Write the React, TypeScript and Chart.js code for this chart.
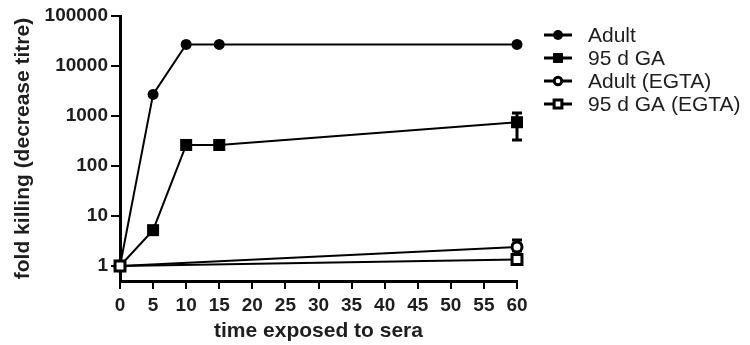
import React, { useEffect, useRef } from 'react';
import { Chart, registerables } from 'chart.js';

Chart.register(...registerables);

// ---- data ----
const seriesNames = ['Adult', '95 d GA', 'Adult (EGTA)', '95 d GA (EGTA)'];
const timePoints = [0, 5, 10, 15, 60];
const adultValues = [1, 2700, 27000, 27000, 27000];
const ga95Values = [1, 5.2, 263, 263, 750];
const egtaTimePoints = [0, 60];
const adultEgtaValues = [1, 2.4];
const ga95EgtaValues = [1, 1.35];

// error bars (time, low, high)
const ga95ErrorTimes = [60];
const ga95ErrorLow = [330];
const ga95ErrorHigh = [1150];
const adultEgtaErrorTimes = [60];
const adultEgtaErrorLow = [2.0];
const adultEgtaErrorHigh = [3.3];

const xTickValues = [0, 5, 10, 15, 20, 25, 30, 35, 40, 45, 50, 55, 60];
const yTickValues = [1, 10, 100, 1000, 10000, 100000];

const FONT = '"Liberation Sans", Arial, Helvetica, sans-serif';
const INK = '#1e1e1e';

function toPoints(xs: number[], ys: number[]) {
  return xs.map((x, i) => ({ x, y: ys[i] }));
}

function drawMarker(
  ctx: CanvasRenderingContext2D,
  style: string,
  x: number,
  y: number,
  r: number,
  fill: string,
  bw: number
) {
  ctx.save();
  ctx.beginPath();
  if (style === 'circle') {
    ctx.arc(x, y, r, 0, Math.PI * 2);
  } else {
    const s = Math.SQRT1_2 * r;
    ctx.rect(x - s, y - s, 2 * s, 2 * s);
  }
  ctx.fillStyle = fill;
  ctx.fill();
  if (bw > 0) {
    ctx.lineWidth = bw;
    ctx.strokeStyle = '#000';
    ctx.stroke();
  }
  ctx.restore();
}

const errorBarPlugin = {
  id: 'errorBars',
  beforeDatasetsDraw(chart: any) {
    const ctx: CanvasRenderingContext2D = chart.ctx;
    const xs = chart.scales.x;
    const ys = chart.scales.y;
    chart.data.datasets.forEach((ds: any) => {
      if (!ds.errorBars) return;
      ds.errorBars.forEach((e: any) => {
        const px = xs.getPixelForValue(e.x);
        const lo = ys.getPixelForValue(e.low);
        const hi = ys.getPixelForValue(e.high);
        ctx.save();
        ctx.strokeStyle = '#000';
        ctx.lineWidth = 3;
        ctx.beginPath();
        ctx.moveTo(px, lo);
        ctx.lineTo(px, hi);
        ctx.moveTo(px - 5, hi);
        ctx.lineTo(px + 5, hi);
        ctx.moveTo(px - 5, lo);
        ctx.lineTo(px + 5, lo);
        ctx.stroke();
        ctx.restore();
      });
    });
  },
};

const legendPlugin = {
  id: 'lineMarkerLegend',
  afterDraw(chart: any) {
    const ctx: CanvasRenderingContext2D = chart.ctx;
    const lineStart = 544;
    const lineEnd = 572;
    const markerX = 558;
    const textX = 588;
    const rowTop = 35;
    const rowGap = 23;
    chart.data.datasets.forEach((ds: any, i: number) => {
      const y = rowTop + i * rowGap;
      ctx.save();
      ctx.strokeStyle = '#000';
      ctx.lineWidth = 3;
      ctx.beginPath();
      ctx.moveTo(lineStart, y);
      ctx.lineTo(lineEnd, y);
      ctx.stroke();
      drawMarker(
        ctx,
        ds.pointStyle,
        markerX,
        y,
        ds.legendRadius,
        ds.pointBackgroundColor,
        ds.pointBorderWidth
      );
      ctx.fillStyle = INK;
      ctx.font = `21px ${FONT}`;
      ctx.textAlign = 'left';
      ctx.textBaseline = 'middle';
      ctx.fillText(ds.label, textX, y + 1);
      ctx.restore();
    });
  },
};

export default function App() {
  const canvasRef = useRef<HTMLCanvasElement | null>(null);

  useEffect(() => {
    if (!canvasRef.current) return;
    const baseLine = {
      borderColor: '#000',
      borderWidth: 2,
      pointBorderColor: '#000',
      pointHoverRadius: 0,
      tension: 0,
      clip: false as any,
      fill: false,
    };
    const chart = new Chart(canvasRef.current, {
      type: 'line',
      data: {
        datasets: [
          {
            ...baseLine,
            label: seriesNames[0],
            data: toPoints(timePoints, adultValues),
            pointStyle: 'circle',
            pointRadius: 5.5,
            pointBackgroundColor: '#000',
            pointBorderWidth: 0,
            legendRadius: 5,
            order: 4,
          } as any,
          {
            ...baseLine,
            label: seriesNames[1],
            data: toPoints(timePoints, ga95Values),
            pointStyle: 'rect',
            pointRadius: 8.5,
            pointBackgroundColor: '#000',
            pointBorderWidth: 0,
            legendRadius: 7,
            errorBars: ga95ErrorTimes.map((x, i) => ({ x, low: ga95ErrorLow[i], high: ga95ErrorHigh[i] })),
            order: 3,
          } as any,
          {
            ...baseLine,
            label: seriesNames[2],
            data: toPoints(egtaTimePoints, adultEgtaValues),
            pointStyle: 'circle',
            pointRadius: 5,
            pointBackgroundColor: '#fff',
            pointBorderWidth: 3,
            legendRadius: 3.8,
            errorBars: adultEgtaErrorTimes.map((x, i) => ({
              x,
              low: adultEgtaErrorLow[i],
              high: adultEgtaErrorHigh[i],
            })),
            order: 2,
          } as any,
          {
            ...baseLine,
            label: seriesNames[3],
            data: toPoints(egtaTimePoints, ga95EgtaValues),
            pointStyle: 'rect',
            pointRadius: 7,
            pointBackgroundColor: '#fff',
            pointBorderWidth: 3,
            legendRadius: 5.5,
            order: 1,
          } as any,
        ],
      },
      options: {
        animation: false,
        responsive: false,
        maintainAspectRatio: false,
        events: [],
        layout: { padding: { top: 16, right: 233, bottom: 0, left: 0 } },
        plugins: {
          legend: { display: false },
          tooltip: { enabled: false },
        },
        scales: {
          x: {
            type: 'linear',
            min: 0,
            max: 60,
            afterBuildTicks: (scale: any) => {
              scale.ticks = xTickValues.map((v) => ({ value: v }));
            },
            afterFit: (scale: any) => {
              scale.height = 64;
            },
            grid: {
              drawOnChartArea: false,
              drawTicks: true,
              tickLength: 8,
              lineWidth: 2,
              color: '#000',
            },
            border: { display: true, color: '#000', width: 3 },
            ticks: {
              autoSkip: false,
              maxRotation: 0,
              padding: 5,
              color: INK,
              font: { family: FONT, size: 19, weight: 'bold' },
              callback: (v: any) => String(v),
            },
            title: {
              display: true,
              text: 'time exposed to sera',
              color: INK,
              font: { family: FONT, size: 21, weight: 'bold' },
              padding: { top: 0, bottom: 1 },
            },
          },
          y: {
            type: 'logarithmic',
            min: 0.5,
            max: 100000,
            afterBuildTicks: (scale: any) => {
              scale.ticks = yTickValues.map((v) => ({ value: v }));
            },
            afterFit: (scale: any) => {
              scale.width = 120;
            },
            grid: {
              drawOnChartArea: false,
              drawTicks: true,
              tickLength: 9,
              lineWidth: 2,
              color: '#000',
            },
            border: { display: true, color: '#000', width: 3 },
            ticks: {
              padding: 3,
              color: INK,
              font: { family: FONT, size: 19, weight: 'bold' },
              callback: (v: any) => String(v),
            },
            title: {
              display: true,
              text: 'fold killing (decrease titre)',
              color: INK,
              font: { family: FONT, size: 21, weight: 'bold' },
              padding: { top: 11, bottom: 0 },
            },
          },
        },
      } as any,
      plugins: [errorBarPlugin, legendPlugin],
    });
    return () => chart.destroy();
  }, []);

  return (
    <div style={{ position: 'fixed', left: 0, top: 0, width: 750, height: 345, background: '#fff' }}>
      <canvas ref={canvasRef} width={750} height={345} style={{ display: 'block', width: 750, height: 345 }} />
    </div>
  );
}
